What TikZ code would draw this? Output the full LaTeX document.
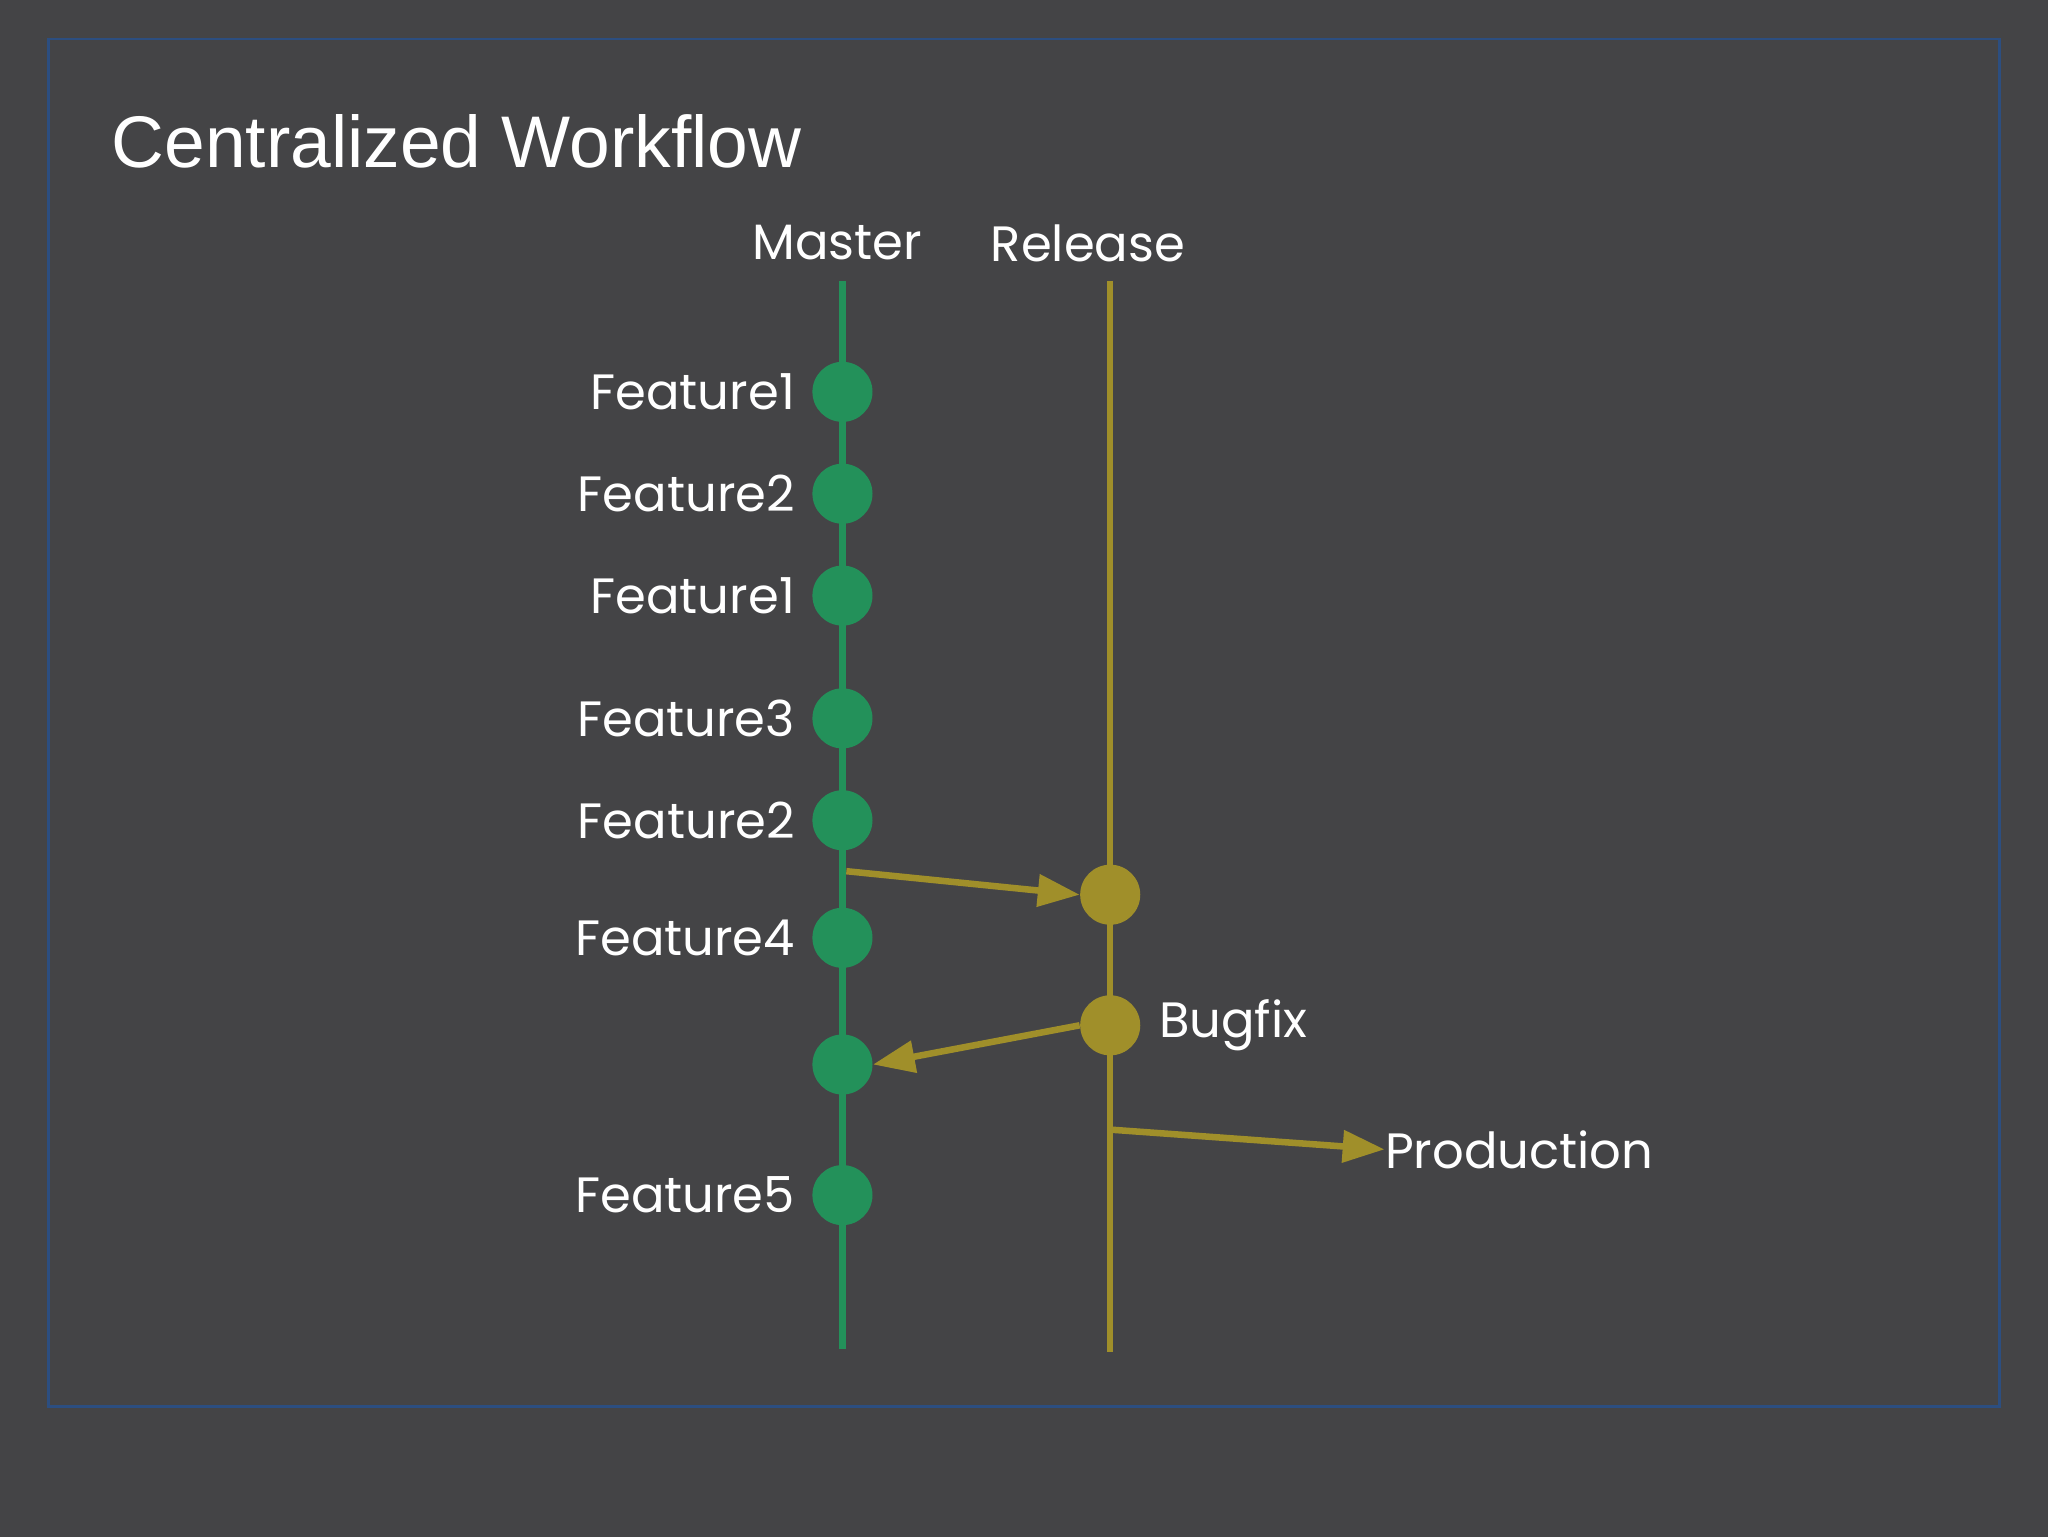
\documentclass[tikz,border=0pt]{standalone}
\usepackage{fontspec}
\setmainfont{Poppins}
\newfontfamily\titlefont{Liberation Sans}
\usetikzlibrary{arrows.meta}
\definecolor{bg}{HTML}{444446}
\definecolor{frm}{HTML}{2C4E80}
\definecolor{grn}{HTML}{23915A}
\definecolor{gld}{HTML}{A08F2A}
\tikzset{
  gdot/.style={circle,fill=grn,minimum size=23pt,inner sep=0pt},
  ydot/.style={circle,fill=gld,minimum size=23pt,inner sep=0pt},
  lbl/.style={text=white,font=\fontsize{19}{22}\selectfont,inner sep=0pt},
  arr/.style={gld,line width=2.5pt,-{Triangle[length=16pt,width=12pt]}}
}
\begin{document}
\begin{tikzpicture}[x=0.5pt,y=-0.5pt]
\fill[bg] (0,0) rectangle (1568,1177);
\useasboundingbox (0,0) rectangle (1568,1177);
\draw[frm,line width=1pt] (37,30) rectangle (1531,1077);
\node[anchor=base west,text=white,inner sep=0pt,font=\titlefont\fontsize{28}{32}\selectfont] (title) at (85,128) {Centralized Workflow};
\node[lbl] (master) at (641,186) {Master};
\node[lbl] (release) at (833,186) {Release};
\coordinate (mt) at (645,215); \coordinate (mb) at (645,1033);
\coordinate (rt) at (850,215); \coordinate (rb) at (850,1035);
\draw[grn,line width=2.5pt] (mt) -- (mb);
\draw[gld,line width=2.5pt] (rt) -- (rb);
\foreach \y/\t/\n in {300/Feature1/a,378/Feature2/b,456/Feature1/c,550/Feature3/d,628/Feature2/e,718/Feature4/f,915/Feature5/h}{
  \node[gdot] (\n) at (645,\y) {};
  \node[lbl,anchor=east] (l\n) at (609,\y) {\t};
}
\node[gdot] (g) at (645,815) {};
\node[ydot] (r1) at (850,685) {};
\node[ydot] (r2) at (850,785) {};
\node[lbl,anchor=west] (bug) at (887,785) {Bugfix};
\node[lbl,anchor=west] (prod) at (1060,880) {Production};
\coordinate (s1) at (648,667);
\coordinate (s2) at (852,865);
\draw[arr] (s1) -- (r1.west);
\draw[arr] (r2.west) -- (g.east);
\draw[arr] (s2) -- (prod.west);
\end{tikzpicture}
\end{document}
